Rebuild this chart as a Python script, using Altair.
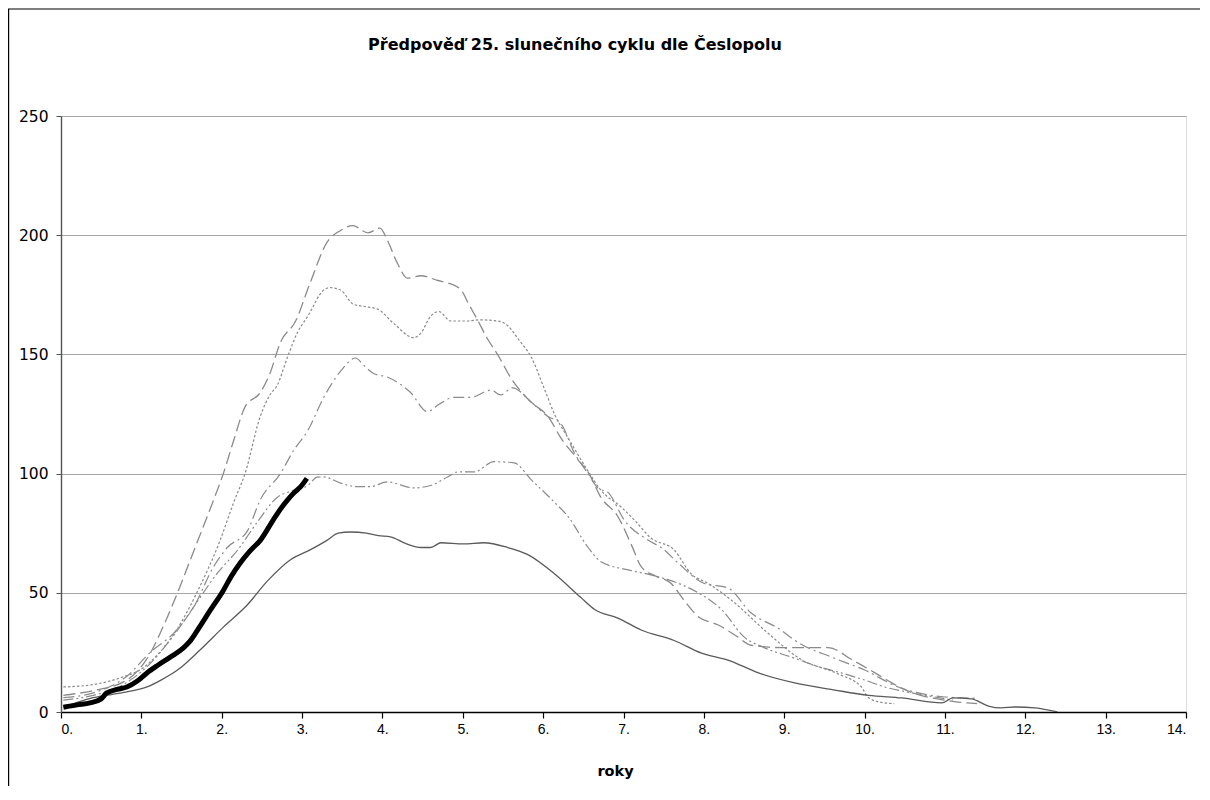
import altair as alt
import pandas as pd

TITLE = "Předpověď 25. slunečního cyklu dle Česlopolu"
X_TITLE = "roky"
X_TICKS = list(range(0, 15))
Y_TICKS = [0, 50, 100, 150, 200, 250]

# current cycle 25 (thick black)
cur_x = [0.03, 0.2, 0.36, 0.5, 0.57, 0.7, 0.82, 0.95, 1.07, 1.2, 1.36, 1.52, 1.6, 1.7, 1.86,
         2.02, 2.12, 2.23, 2.35, 2.48, 2.64, 2.75, 2.82, 2.9, 2.98, 3.06]
cur_v = [2, 3, 3.8, 5.5, 8, 9.5, 10.5, 13, 16.4, 19.5, 23, 26.8, 29.5, 34.4, 42.8,
         51, 57, 62.5, 67.5, 72, 80.5, 86, 89, 92, 94.4, 98]

# lowest analogue (thin solid)
min_x = [0.03, 0.4, 0.82, 1.07, 1.25, 1.45, 1.73, 2.02, 2.32, 2.57, 2.86, 3.1, 3.31, 3.45, 3.6,
         3.8, 3.95, 4.1, 4.3, 4.48, 4.6, 4.73, 5.01, 5.26, 5.56, 5.81, 6.14, 6.47, 6.64, 6.93,
         7.22, 7.63, 7.97, 8.3, 8.68, 9.13, 9.63, 10.05, 10.46, 10.96, 11.1, 11.33, 11.54, 11.7,
         11.87, 12.12, 12.29, 12.4]
min_v = [2, 6, 8.4, 10.5, 13.5, 17.6, 26, 35.6, 45, 55, 64, 68, 72, 75, 75.5,
         75, 74, 73.5, 70.5, 69, 69, 71, 70.5, 71, 69, 66, 58, 48, 43, 39.4,
         34.4, 30, 24.7, 21.8, 16.4, 12.2, 9.2, 7, 5.9, 3.8, 5.9, 5.5, 2.5, 1.7,
         2.1, 1.7, 0.8, 0]

# highest analogue (long dash)
max_x = [0.03, 0.4, 0.8, 1.1, 1.3, 1.45, 1.6, 1.75, 1.9, 2.02, 2.15, 2.29, 2.48, 2.6, 2.73, 2.92,
         3.1, 3.31, 3.48, 3.63, 3.82, 3.97, 4.06, 4.19, 4.31, 4.48, 4.69, 4.81, 4.98, 5.06,
         5.19, 5.3, 5.45, 5.6, 5.85, 6.06, 6.22, 6.43, 6.57, 6.72, 6.93, 7.1, 7.22, 7.4, 7.59,
         7.75, 7.93, 8.18, 8.4, 8.59, 8.97, 9.2, 9.55, 9.84, 10.05, 10.3, 10.46, 10.7, 11.0,
         11.2, 11.4]
max_v = [7, 9, 13, 24, 38, 50, 63, 76, 89, 100, 114, 128, 134, 142, 155, 164,
         180, 197, 202, 204, 201, 203, 198, 188, 182, 183, 181, 180, 177, 172,
         164, 157, 149, 140, 130, 124, 115, 106, 100, 90, 82, 70, 61, 57, 54,
         47, 40, 36.5, 32, 28, 27, 27, 27, 22, 18, 13, 10, 7, 5,
         4, 3.5]

# second analogue (short dots)
dot_x = [0.03, 0.4, 0.77, 1.0, 1.2, 1.45, 1.69, 1.98, 2.15, 2.29, 2.48, 2.6, 2.69, 2.82, 2.94,
         3.07, 3.27, 3.35, 3.48, 3.64, 3.8, 3.94, 4.14, 4.39, 4.48, 4.6, 4.7, 4.85, 5.06, 5.2,
         5.44, 5.56, 5.7, 5.85, 6.01, 6.14, 6.31, 6.56, 6.72, 6.97, 7.15, 7.34, 7.63, 7.84,
         8.05, 8.34, 8.8, 9.21, 9.67, 9.96, 10.05, 10.21, 10.37]
dot_v = [10.5, 11.5, 14.7, 18, 24, 35, 50, 72, 88, 100, 124, 133, 137, 149, 159,
         166, 177, 178, 177, 171, 170, 169, 163, 157, 159, 166, 168, 164, 164, 164.5,
         164, 162, 156, 149, 136, 125, 115, 101, 93, 86, 80, 73, 68, 58,
         54, 47, 33, 22, 16, 10.5, 6, 4, 3.5]

# third analogue (dash dot)
dd_x = [0.03, 0.4, 0.82, 1.11, 1.4, 1.65, 1.9, 2.07, 2.32, 2.48, 2.73, 2.9, 3.07, 3.27, 3.48,
        3.67, 3.75, 3.89, 4.06, 4.35, 4.56, 4.7, 4.89, 5.1, 5.35, 5.47, 5.62, 5.85, 6.06, 6.22,
        6.39, 6.56, 6.68, 6.81, 7.01, 7.31, 7.47, 7.68, 8.0, 8.3, 8.59, 8.93, 9.18, 9.59, 10.0,
        10.42, 10.67, 11.0, 11.37]
dd_v = [6, 8, 15, 25, 33, 44, 61, 69, 76, 89, 100, 110, 118, 132, 143,
        148.5, 146, 142, 140.5, 134, 126, 129, 132, 132, 135, 133, 136, 130, 124, 121,
        108.6, 100, 94, 92, 80.5, 72, 69, 62.5, 54, 52, 41.5, 35, 29, 23, 17.6,
        10.5, 8, 6.3, 5.8]

# fourth analogue (dash dot dot)
ddd_x = [0.03, 0.4, 0.8, 1.1, 1.4, 1.65, 1.94, 2.2, 2.45, 2.69, 2.9, 3.07, 3.19, 3.27, 3.48,
         3.69, 3.85, 4.06, 4.39, 4.6, 4.81, 4.94, 5.14, 5.39, 5.64, 5.85, 6.14, 6.31, 6.56,
         6.72, 7.06, 7.34, 7.68, 7.93, 8.22, 8.5, 8.75, 9.09, 9.43, 9.75, 10.0, 10.25, 10.59,
         10.87, 11.1]
ddd_v = [5, 7, 12, 20, 32, 44, 58, 68, 80, 90, 93, 95, 98.5, 98.6, 96,
         94.5, 94.5, 96.5, 94, 95, 98.6, 100.7, 100.7, 105, 104.5, 97.5, 88, 82, 69,
         63, 59.6, 57.5, 54, 50, 43, 31.5, 27, 23, 19, 16, 13.4, 10.5, 8,
         6.3, 5]

FONT = "Liberation Sans"
WIDE = "DejaVu Sans"

x_enc = alt.X("x:Q", scale=alt.Scale(domain=[0, 14], nice=False),
              axis=alt.Axis(values=X_TICKS, labelExpr="datum.value + '.'", grid=False,
                            domainColor="#000000", domainWidth=1.6, tickColor="#000000",
                            tickSize=6, tickWidth=1.2, labelFont=FONT, labelFontSize=14,
                            labelColor="#000000", labelPadding=4, title=X_TITLE,
                            titleFont=WIDE, titleFontSize=14.5, titleFontWeight="bold",
                            titleColor="#000000", titleX=554, titleY=59,
                            titleBaseline="middle"))
y_enc = alt.Y("v:Q", scale=alt.Scale(domain=[0, 250], nice=False),
              axis=alt.Axis(values=Y_TICKS, grid=True, gridColor="#a6a6a6", gridWidth=1,
                            domainColor="#555555", domainWidth=1.4, tickColor="#555555",
                            tickSize=5, labelFont=WIDE, labelFontSize=15.5,
                            labelColor="#000000", labelPadding=8, title=None))


def series(xs, vs, color, width, dash=None):
    df = pd.DataFrame({"x": xs, "v": vs})
    kw = dict(color=color, strokeWidth=width, interpolate="monotone", clip=True)
    if dash:
        kw["strokeDash"] = dash
    return alt.Chart(df).mark_line(**kw).encode(x=x_enc, y=y_enc)


one = pd.DataFrame({"t": [TITLE]})
frame_left = alt.Chart(one).mark_rule(color="#000000", strokeWidth=1.2).encode(
    x=alt.value(-52.4), y=alt.value(-107), y2=alt.value(700))
frame_top = alt.Chart(one).mark_rule(color="#000000", strokeWidth=1.2).encode(
    x=alt.value(-53), x2=alt.value(1200), y=alt.value(-107))
title = alt.Chart(one).mark_text(font=WIDE, fontSize=16, fontWeight="bold",
                                 color="#000000", align="center", baseline="middle").encode(
    x=alt.value(514), y=alt.value(-71), text="t:N")

chart = alt.layer(
    frame_left, frame_top, title,
    series(ddd_x, ddd_v, "#8a8a8a", 1.2, [10, 3, 2, 3, 2, 3]),
    series(dd_x, dd_v, "#8a8a8a", 1.2, [11, 4, 2, 4]),
    series(dot_x, dot_v, "#8a8a8a", 1.2, [2.5, 2]),
    series(max_x, max_v, "#8a8a8a", 1.3, [12, 5]),
    series(min_x, min_v, "#5a5a5a", 1.3),
    series(cur_x, cur_v, "#000000", 5),
).properties(
    width=1125, height=596,
    padding={"left": 53, "top": 108, "right": 14, "bottom": 74},
    autosize=alt.AutoSizeParams(type="none"),
).configure_view(stroke="#8c8c8c", strokeWidth=1.2).configure(background="#ffffff")

chart.save("out.html", embed_options={"renderer": "svg", "actions": False})
